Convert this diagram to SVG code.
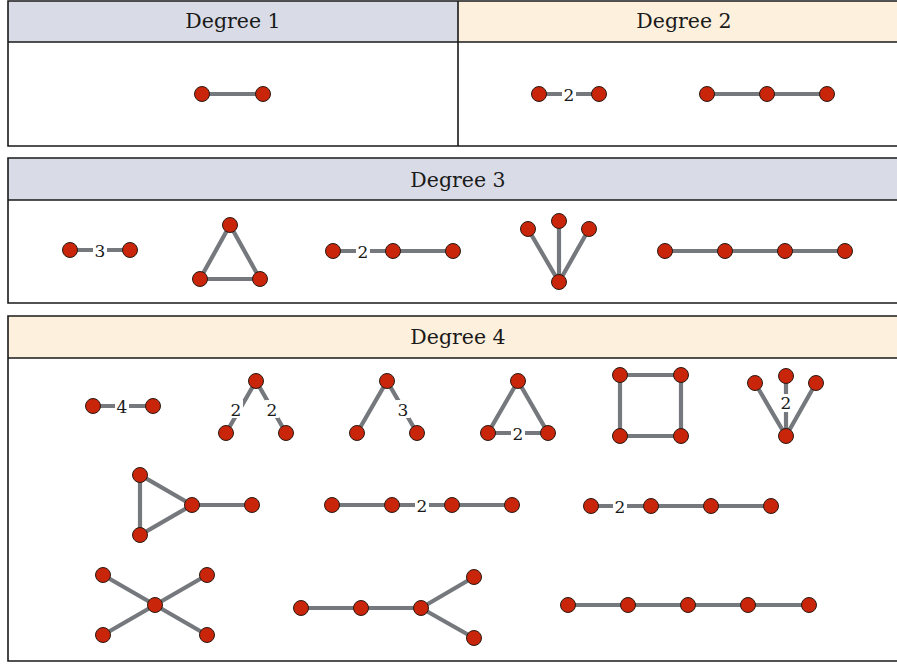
<svg xmlns="http://www.w3.org/2000/svg" width="897" height="664" viewBox="0 0 897 664">
<style>
.frame{fill:none;stroke:#1a1a1a;stroke-width:1.6}
.hb{fill:#d9dce6}
.hy{fill:#fdf0dc}
.ht{font-family:'DejaVu Serif','Liberation Serif','Times New Roman',serif;font-size:20.5px;fill:#1a1a1a;text-anchor:middle}
.e{stroke:#75787c;stroke-width:4.2;fill:none}
.n{fill:#c8250a;stroke:#2a1a14;stroke-width:1}
.lb{fill:#ffffff}
.lt{font-family:'DejaVu Serif','Liberation Serif','Times New Roman',serif;font-size:17px;fill:#1a1a1a;text-anchor:middle;dominant-baseline:central}
</style>
<rect width="897" height="664" fill="#ffffff"/>
<!-- tables -->
<g id="table1">
<rect class="hb" x="8" y="1" width="450" height="41"/>
<rect class="hy" x="458" y="1" width="445" height="41"/>
<path class="frame" d="M905,1 H8 V146 H905 M8,42 H905 M458,1 V146"/>
<text class="ht" x="233" y="28">Degree 1</text>
<text class="ht" x="684" y="28">Degree 2</text>
</g>
<g id="table2">
<rect class="hb" x="8" y="158" width="897" height="42"/>
<path class="frame" d="M905,158 H8 V303 H905 M8,200 H905"/>
<text class="ht" x="458" y="187">Degree 3</text>
</g>
<g id="table3">
<rect class="hy" x="8" y="316" width="897" height="42"/>
<path class="frame" d="M905,316 H8 V661 H905 M8,358 H905"/>
<text class="ht" x="458" y="344">Degree 4</text>
</g>
<!-- connectors -->
<g id="connectors">
<line class="e" x1="202" y1="94" x2="263" y2="94"/>
<line class="e" x1="539" y1="94" x2="599" y2="94"/>
<line class="e" x1="707" y1="94" x2="827" y2="94"/>
<line class="e" x1="70" y1="250" x2="130" y2="250"/>
<path class="e" d="M230,225 L200,279 L260,279 Z"/>
<line class="e" x1="333" y1="251" x2="453" y2="251"/>
<path class="e" d="M528,229 L559,282 L559,221 M589,229 L559,282"/>
<line class="e" x1="665" y1="251" x2="845" y2="251"/>
<line class="e" x1="93" y1="406" x2="153" y2="406"/>
<path class="e" d="M226,433 L256,381 L286,433"/>
<path class="e" d="M357,433 L387,381 L417,433"/>
<path class="e" d="M518,381 L488,433 L548,433 Z"/>
<path class="e" d="M620,375 H681 V436 H620 Z"/>
<path class="e" d="M755,383 L786,436 L786,376 M816,383 L786,436"/>
<path class="e" d="M140,475 L140,535 L192,505 Z M192,505 H252"/>
<line class="e" x1="332" y1="505" x2="512" y2="505"/>
<line class="e" x1="591" y1="506" x2="771" y2="506"/>
<path class="e" d="M103,575 L207,635 M207,575 L103,635"/>
<path class="e" d="M301,608 H421 L474,577 M421,608 L474,638"/>
<line class="e" x1="568" y1="605" x2="809" y2="605"/>
</g>
<g id="edge-labels">
<rect class="lb" x="562" y="85" width="14" height="18"/><text class="lt" x="569" y="95">2</text>
<rect class="lb" x="93" y="241" width="14" height="18"/><text class="lt" x="100" y="251">3</text>
<rect class="lb" x="356" y="242" width="14" height="18"/><text class="lt" x="363" y="252">2</text>
<rect class="lb" x="115" y="397" width="14" height="18"/><text class="lt" x="122" y="407">4</text>
<rect class="lb" x="229" y="400" width="14" height="18"/><text class="lt" x="236" y="410">2</text>
<rect class="lb" x="265" y="400" width="14" height="18"/><text class="lt" x="272" y="410">2</text>
<rect class="lb" x="396" y="400" width="14" height="18"/><text class="lt" x="403" y="410">3</text>
<rect class="lb" x="511" y="424" width="14" height="18"/><text class="lt" x="518" y="434">2</text>
<rect class="lb" x="780" y="394" width="12" height="18"/><text class="lt" x="786" y="403">2</text>
<rect class="lb" x="415" y="496" width="14" height="18"/><text class="lt" x="422" y="506">2</text>
<rect class="lb" x="613" y="497" width="14" height="18"/><text class="lt" x="620" y="507">2</text>
</g>
<!-- nodes -->
<g id="g1-1"><circle class="n" cx="202" cy="94" r="7.5"/><circle class="n" cx="263" cy="94" r="7.5"/></g>
<g id="g2-1"><circle class="n" cx="539" cy="94" r="7.5"/><circle class="n" cx="599" cy="94" r="7.5"/></g>
<g id="g2-2"><circle class="n" cx="707" cy="94" r="7.5"/><circle class="n" cx="767" cy="94" r="7.5"/><circle class="n" cx="827" cy="94" r="7.5"/></g>
<g id="g3-1"><circle class="n" cx="70" cy="250" r="7.5"/><circle class="n" cx="130" cy="250" r="7.5"/></g>
<g id="g3-2"><circle class="n" cx="230" cy="225" r="7.5"/><circle class="n" cx="200" cy="279" r="7.5"/><circle class="n" cx="260" cy="279" r="7.5"/></g>
<g id="g3-3"><circle class="n" cx="333" cy="251" r="7.5"/><circle class="n" cx="393" cy="251" r="7.5"/><circle class="n" cx="453" cy="251" r="7.5"/></g>
<g id="g3-4"><circle class="n" cx="528" cy="229" r="7.5"/><circle class="n" cx="559" cy="221" r="7.5"/><circle class="n" cx="589" cy="229" r="7.5"/><circle class="n" cx="559" cy="282" r="7.5"/></g>
<g id="g3-5"><circle class="n" cx="665" cy="251" r="7.5"/><circle class="n" cx="725" cy="251" r="7.5"/><circle class="n" cx="785" cy="251" r="7.5"/><circle class="n" cx="845" cy="251" r="7.5"/></g>
<g id="g4-1"><circle class="n" cx="93" cy="406" r="7.5"/><circle class="n" cx="153" cy="406" r="7.5"/></g>
<g id="g4-2"><circle class="n" cx="256" cy="381" r="7.5"/><circle class="n" cx="226" cy="433" r="7.5"/><circle class="n" cx="286" cy="433" r="7.5"/></g>
<g id="g4-3"><circle class="n" cx="387" cy="381" r="7.5"/><circle class="n" cx="357" cy="433" r="7.5"/><circle class="n" cx="417" cy="433" r="7.5"/></g>
<g id="g4-4"><circle class="n" cx="518" cy="381" r="7.5"/><circle class="n" cx="488" cy="433" r="7.5"/><circle class="n" cx="548" cy="433" r="7.5"/></g>
<g id="g4-5"><circle class="n" cx="620" cy="375" r="7.5"/><circle class="n" cx="681" cy="375" r="7.5"/><circle class="n" cx="620" cy="436" r="7.5"/><circle class="n" cx="681" cy="436" r="7.5"/></g>
<g id="g4-6"><circle class="n" cx="755" cy="383" r="7.5"/><circle class="n" cx="786" cy="376" r="7.5"/><circle class="n" cx="816" cy="383" r="7.5"/><circle class="n" cx="786" cy="436" r="7.5"/></g>
<g id="g4-7"><circle class="n" cx="140" cy="475" r="7.5"/><circle class="n" cx="140" cy="535" r="7.5"/><circle class="n" cx="192" cy="505" r="7.5"/><circle class="n" cx="252" cy="505" r="7.5"/></g>
<g id="g4-8"><circle class="n" cx="332" cy="505" r="7.5"/><circle class="n" cx="392" cy="505" r="7.5"/><circle class="n" cx="452" cy="505" r="7.5"/><circle class="n" cx="512" cy="505" r="7.5"/></g>
<g id="g4-9"><circle class="n" cx="591" cy="506" r="7.5"/><circle class="n" cx="651" cy="506" r="7.5"/><circle class="n" cx="711" cy="506" r="7.5"/><circle class="n" cx="771" cy="506" r="7.5"/></g>
<g id="g4-10"><circle class="n" cx="155" cy="605" r="7.5"/><circle class="n" cx="103" cy="575" r="7.5"/><circle class="n" cx="207" cy="575" r="7.5"/><circle class="n" cx="103" cy="635" r="7.5"/><circle class="n" cx="207" cy="635" r="7.5"/></g>
<g id="g4-11"><circle class="n" cx="301" cy="608" r="7.5"/><circle class="n" cx="361" cy="608" r="7.5"/><circle class="n" cx="421" cy="608" r="7.5"/><circle class="n" cx="474" cy="577" r="7.5"/><circle class="n" cx="474" cy="638" r="7.5"/></g>
<g id="g4-12"><circle class="n" cx="568" cy="605" r="7.5"/><circle class="n" cx="628" cy="605" r="7.5"/><circle class="n" cx="688" cy="605" r="7.5"/><circle class="n" cx="748" cy="605" r="7.5"/><circle class="n" cx="809" cy="605" r="7.5"/></g>
</svg>
